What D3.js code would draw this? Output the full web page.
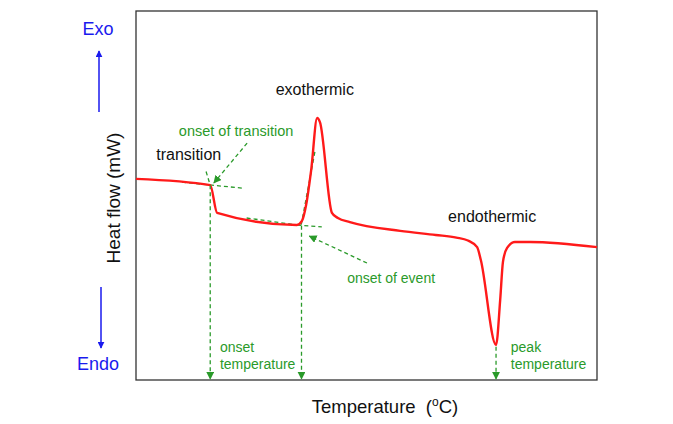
<!DOCTYPE html>
<html>
<head>
<meta charset="utf-8">
<script src="https://cdn.jsdelivr.net/npm/d3@7"></script>
<style>
  body { margin: 0; background: #fff; }
  text { font-family: "Liberation Sans", Arial, sans-serif; }
</style>
</head>
<body>
<div id="chart"></div>
<script>
// DSC curve, temperature (arbitrary units 0-100) vs heat flow (arbitrary units 0-100)
var curveTemp = [0, 16.1, 17.6, 34.9, 36.0, 36.9, 38.0, 39.3, 39.9, 42.5, 43.8, 46.4, 57.3, 65.0, 69.5, 72.0, 74.0, 74.8, 78.1, 79.0, 79.6, 80.5, 82.2, 85.5, 100];
var curveHeat = [54.5, 52.8, 45.3, 42.0, 43.1, 47.4, 56.9, 71.0, 69.9, 45.3, 43.9, 42.8, 40.4, 39.3, 38.6, 37.8, 36.0, 32.5, 9.5, 21.7, 32.0, 35.8, 37.4, 37.4, 36.0];

// green dashed construction lines: [t1, h1, t2, h2]
var tangentLines = [
  [10.0, 53.6, 23.0, 52.0],   // baseline before transition
  [15.2, 56.5, 16.1, 52.8],   // slope of transition
  [24.0, 43.9, 35.0, 42.0],   // baseline before event
  [35.0, 42.0, 40.3, 41.5],   // baseline extension
  [38.8, 61.8, 35.8, 41.8]    // rising edge of exotherm
];
// dashed drop lines with arrow heads: [t, hTop]
var dropLines = [[16.1, 52.8], [35.9, 41.8], [78.1, 9.0]];
// annotation arrows: [t1, h1, t2, h2]
var pointerArrows = [[24.1, 64.2, 16.9, 53.4], [50.1, 31.7, 37.6, 39.0]];

var labels = [
  { t: 30.3, h: 77.2, text: "exothermic", size: 16, color: "#111" },
  { t: 4.4, h: 59.6, text: "transition", size: 16, color: "#111" },
  { t: 67.7, h: 42.8, text: "endothermic", size: 16, color: "#111" },
  { t: 9.3, h: 66.1, text: "onset of transition", size: 14.5, color: "#2a9a2a" },
  { t: 45.8, h: 26.3, text: "onset of event", size: 14, color: "#2a9a2a" },
  { t: 18.2, h: 7.6, text: "onset", size: 14, color: "#2a9a2a" },
  { t: 18.2, h: 3.0, text: "temperature", size: 14, color: "#2a9a2a" },
  { t: 81.3, h: 7.6, text: "peak", size: 14, color: "#2a9a2a" },
  { t: 81.3, h: 3.0, text: "temperature", size: 14, color: "#2a9a2a" }
];

var svgWidth = 673, svgHeight = 424;
var margin = { top: 11, right: 76, bottom: 44, left: 136 };
var chartWidth = svgWidth - margin.left - margin.right;
var chartHeight = svgHeight - margin.top - margin.bottom;

var svg = d3.select("#chart").append("svg")
  .attr("width", svgWidth)
  .attr("height", svgHeight);

var defs = svg.append("defs");
function addMarker(id, color, size) {
  defs.append("marker")
    .attr("id", id)
    .attr("viewBox", "0 0 10 10")
    .attr("refX", 9).attr("refY", 5)
    .attr("markerWidth", size).attr("markerHeight", size)
    .attr("markerUnits", "userSpaceOnUse")
    .attr("orient", "auto")
    .append("path")
    .attr("d", "M0,0 L10,5 L0,10 z")
    .attr("fill", color);
}
addMarker("greenHead", "#2a9a2a", 8);
addMarker("blueHead", "#1a1aee", 7);

var chartGroup = svg.append("g")
  .attr("transform", `translate(${margin.left}, ${margin.top})`);

var xScale = d3.scaleLinear().domain([0, 100]).range([0, chartWidth]);
var yScale = d3.scaleLinear().domain([0, 100]).range([chartHeight, 0]);

// frame
chartGroup.append("rect")
  .attr("width", chartWidth)
  .attr("height", chartHeight)
  .attr("fill", "none")
  .attr("stroke", "#333")
  .attr("stroke-width", 1.3);

var green = "#2a9a2a";

// construction lines
chartGroup.selectAll(".tangent")
  .data(tangentLines)
  .enter().append("line")
  .attr("x1", d => xScale(d[0])).attr("y1", d => yScale(d[1]))
  .attr("x2", d => xScale(d[2])).attr("y2", d => yScale(d[3]))
  .attr("stroke", green).attr("stroke-width", 1.3)
  .attr("stroke-dasharray", "4,3");

// the DSC curve
var line = d3.line()
  .x((d, i) => xScale(curveTemp[i]))
  .y(d => yScale(d))
  .curve(d3.curveMonotoneX);

chartGroup.append("path")
  .datum(curveHeat)
  .attr("d", line)
  .attr("fill", "none")
  .attr("stroke", "#ff1a1a")
  .attr("stroke-width", 2.4)
  .attr("stroke-linejoin", "round");

// drop lines to the temperature axis
chartGroup.selectAll(".drop")
  .data(dropLines)
  .enter().append("line")
  .attr("x1", d => xScale(d[0])).attr("y1", d => yScale(d[1]))
  .attr("x2", d => xScale(d[0])).attr("y2", yScale(0) - 1)
  .attr("stroke", green).attr("stroke-width", 1.3)
  .attr("stroke-dasharray", "4,3")
  .attr("marker-end", "url(#greenHead)");

// pointer arrows
chartGroup.selectAll(".pointer")
  .data(pointerArrows)
  .enter().append("line")
  .attr("x1", d => xScale(d[0])).attr("y1", d => yScale(d[1]))
  .attr("x2", d => xScale(d[2])).attr("y2", d => yScale(d[3]))
  .attr("stroke", green).attr("stroke-width", 1.3)
  .attr("stroke-dasharray", "4,3")
  .attr("marker-end", "url(#greenHead)");

// annotation labels
chartGroup.selectAll(".note")
  .data(labels)
  .enter().append("text")
  .attr("x", d => xScale(d.t))
  .attr("y", d => yScale(d.h))
  .attr("font-size", d => d.size)
  .attr("fill", d => d.color)
  .text(d => d.text);

// axis titles
svg.append("text")
  .attr("x", 385)
  .attr("y", 413)
  .attr("text-anchor", "middle")
  .attr("font-size", 18.5)
  .attr("fill", "#111")
  .html('Temperature &#160;(<tspan font-size="12" dy="-7">o</tspan><tspan dy="7">C)</tspan>');

svg.append("text")
  .attr("transform", "translate(120, 198) rotate(-90)")
  .attr("text-anchor", "middle")
  .attr("font-size", 19)
  .attr("fill", "#111")
  .text("Heat flow (mW)");

// Exo / Endo direction
var blue = "#1a1aee";
svg.append("text").attr("x", 98).attr("y", 35).attr("text-anchor", "middle")
  .attr("font-size", 18).attr("fill", blue).text("Exo");
svg.append("text").attr("x", 98).attr("y", 370).attr("text-anchor", "middle")
  .attr("font-size", 18).attr("fill", blue).text("Endo");
svg.append("line").attr("x1", 99).attr("y1", 112).attr("x2", 99).attr("y2", 51)
  .attr("stroke", blue).attr("stroke-width", 1.5).attr("marker-end", "url(#blueHead)");
svg.append("line").attr("x1", 101).attr("y1", 287).attr("x2", 101).attr("y2", 348)
  .attr("stroke", blue).attr("stroke-width", 1.5).attr("marker-end", "url(#blueHead)");
</script>
</body>
</html>
